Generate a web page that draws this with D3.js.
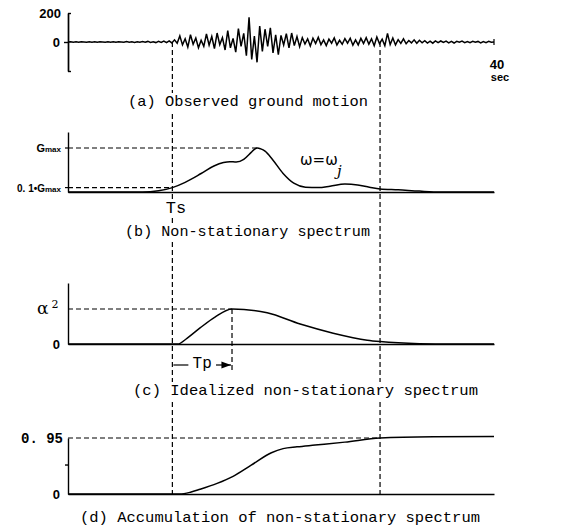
<!DOCTYPE html>
<html lang="en">
<head>
<meta charset="utf-8">
<title>Non-stationary spectrum</title>
<script src="https://d3js.org/d3.v7.min.js"></script>
<style>
  body { margin: 0; background: #fff; }
  svg { display: block; background: #fff; }
  .cap { font-family: "Liberation Mono", "DejaVu Sans Mono", monospace; font-size: 15px; fill: #000; }
  .lab { font-family: "Liberation Sans", Arial, sans-serif; font-weight: bold; font-size: 13px; fill: #000; }
  .axis path, .axis line { stroke: #000; stroke-width: 1.4; }
  .axis text { display: none; }
  .dash { stroke: #000; stroke-width: 1.2; stroke-dasharray: 5 3; fill: none; }
  .curve { stroke: #000; stroke-width: 1.5; fill: none; }
</style>
</head>
<body>
<svg id="fig" width="565" height="528"></svg>
<script>
// (a) observed ground motion, gal, one value every 0.25 s from 0 to 40 s
var accel = [
  0,2,-1,1, -2,1,0,-1, 2,-1,1,-2, 1,0,-2,2, -1,2,-2,1,
  0,-2,3,-1, 2,-3,1,-2, 3,-2,4,-3, 2,-4,5,-3, 6,-5,8,-6,
  15,-8,42,-20, 22,-35,50,-15, 28,-40,12,-30, 55,-22,38,-45, 62,-18,30,-55,
  78,-40,25,-70, 92,-30,60,-95, 170,-120,40,-140, 110,-65,88,-30, 98,-75,50,-88,
  45,-20,58,-40, 62,-25,38,-32, 30,-14,22,-28, 26,-10,32,-18, 15,-25,20,-8,
  28,-20,12,-16, 24,-8,26,-22, 14,-20,25,-10, 30,-15,22,-26, 35,-12,20,-25,
  60,-18,28,-20, 16,-10,22,-12, 10,-6,15,-9, 12,-5,9,-7, 6,-8,8,-4,
  7,-3,6,-6, 4,-7,5,-2, 6,-4,3,-5, 5,-2,4,-6, 3,-4,5,-2, 0
]

// (b) non-stationary spectrum, G / Gmax
var specT = [0, 7, 8.5, 9.8, 11, 12.5, 13.7, 14.6, 15.2, 15.8, 16.5, 17.2, 17.5, 17.8, 18.1, 18.5, 19.2, 20.2, 21.2, 22.3, 23.5, 24.6, 26, 27.2, 28.3, 29.3, 31, 33, 35, 40]
var specG = [0, 0, 0.03, 0.1, 0.22, 0.42, 0.59, 0.67, 0.69, 0.68, 0.74, 0.9, 0.97, 1.0, 0.98, 0.93, 0.74, 0.42, 0.2, 0.11, 0.1, 0.13, 0.18, 0.16, 0.11, 0.07, 0.05, 0.02, 0, 0]

// (c) idealized spectrum, / alpha^2
var idealT = [0, 10.3, 11.2, 12.4, 13.8, 15.4, 18.7, 21.8, 24.9, 28.1, 29.3, 33, 36, 40]
var idealG = [0, 0, 0.17, 0.46, 0.77, 1.0, 0.89, 0.57, 0.31, 0.11, 0.07, 0.01, 0, 0]

// (d) accumulation
var accT = [0, 10.5, 11.5, 12.4, 14, 15.5, 17.2, 19.1, 20.2, 21.5, 23.2, 26, 29.3, 34.3, 40]
var accV = [0, 0, 0.03, 0.08, 0.18, 0.3, 0.49, 0.70, 0.77, 0.8, 0.83, 0.88, 0.95, 0.97, 0.975]

var Ts = 9.8, Te = 29.3, Tpk = 15.4, Tgmax = 17.8

var captions = [
  "(a) Observed ground motion",
  "(b) Non-stationary spectrum",
  "(c) Idealized non-stationary spectrum",
  "(d) Accumulation of non-stationary spectrum"
]

var svg = d3.select("#fig")

var x = d3.scaleLinear().domain([0, 40]).range([68, 494])
var ya = d3.scaleLinear().domain([-200, 200]).range([71, 13])
var yb = d3.scaleLinear().domain([0, 1]).range([192, 148])
var yc = d3.scaleLinear().domain([0, 1]).range([344, 309])
var yd = d3.scaleLinear().domain([0, 0.95]).range([494, 438])

var dt = 40 / (accel.length - 1)

// long dashed verticals through all panels
svg.selectAll("line.vert")
  .data([Ts, Te])
  .enter().append("line")
  .attr("class", "dash vert")
  .attr("x1", d => x(d)).attr("x2", d => x(d))
  .attr("y1", ya(0)).attr("y2", yd(0))

// ---------- (a)
var ga = svg.append("g")
ga.append("path")
  .attr("class", "curve")
  .attr("stroke-width", 1.2)
  .attr("d", d3.line().x((d, i) => x(i * dt)).y(d => ya(d))(accel))
ga.append("g").attr("class", "axis")
  .attr("transform", "translate(" + x(0) + ",0)")
  .call(d3.axisLeft(ya).tickValues([0]).tickSize(4).tickSizeOuter(0))
ga.append("g").attr("class", "axis")
  .attr("transform", "translate(" + x(0) + ",0)")
  .call(d3.axisRight(ya).tickValues([-200, 200]).tickSize(3).tickSizeOuter(0))
ga.append("line").attr("stroke", "#000").attr("stroke-width", 1.2)
  .attr("x1", x(40)).attr("x2", x(40)).attr("y1", ya(0) - 3).attr("y2", ya(0) + 3)
ga.append("text").attr("class", "lab").attr("text-anchor", "end")
  .attr("x", 61).attr("y", ya(200) + 5).text("200")
ga.append("text").attr("class", "lab").attr("text-anchor", "end")
  .attr("x", 60).attr("y", ya(0) + 5).text("0")
ga.append("text").attr("class", "lab").attr("text-anchor", "middle")
  .attr("x", x(40) + 3).attr("y", 69).text("40")
ga.append("text").attr("class", "lab").attr("text-anchor", "middle")
  .style("font-size", "11px")
  .attr("x", x(40) + 6).attr("y", 81).text("sec")

// ---------- (b)
var gb = svg.append("g")
gb.append("path").attr("class", "dash")
  .attr("d", d3.line()([[x(0), yb(1)], [x(Tgmax), yb(1)]]))
gb.append("path").attr("class", "dash")
  .attr("d", d3.line()([[x(0), yb(0.1)], [x(Ts), yb(0.1)]]))
gb.append("path")
  .attr("class", "curve")
  .attr("d", d3.line().curve(d3.curveMonotoneX).x((d, i) => x(specT[i])).y(d => yb(d))(specG))
gb.append("g").attr("class", "axis")
  .attr("transform", "translate(" + x(0) + ",0)")
  .call(d3.axisLeft(yb.copy().domain([0, 1.36]).range([192, 132])).tickValues([]).tickSizeOuter(0))
gb.append("g").attr("class", "axis")
  .attr("transform", "translate(0," + yb(0) + ")")
  .call(d3.axisBottom(x).tickValues([]).tickSizeOuter(0))
gb.selectAll("line.tk").data([1, 0.1]).enter().append("line")
  .attr("stroke", "#000").attr("stroke-width", 1.2)
  .attr("x1", x(0) - 3).attr("x2", x(0)).attr("y1", d => yb(d)).attr("y2", d => yb(d))

var gmax = gb.append("text").attr("class", "lab").attr("text-anchor", "end")
  .attr("x", 61).attr("y", yb(1) + 4).style("font-size", "11px")
gmax.append("tspan").text("G")
gmax.append("tspan").style("font-size", "8px").text("max")
var g01 = gb.append("text").attr("class", "lab").attr("text-anchor", "end")
  .attr("x", 61).attr("y", yb(0.1) + 4).style("font-size", "10px")
g01.append("tspan").text("0. 1\u2022G")
g01.append("tspan").style("font-size", "8px").text("max")

gb.append("text").attr("x", 300).attr("y", 165)
  .style("font-family", "\"DejaVu Sans\", sans-serif").style("font-size", "15px")
  .text("\u03c9=\u03c9")
gb.append("text").attr("x", 337).attr("y", 176)
  .style("font-family", "\"DejaVu Serif\", serif").style("font-style", "italic").style("font-size", "15px")
  .text("j")

gb.append("rect").attr("x", 166).attr("y", 200).attr("width", 20).attr("height", 16).attr("fill", "#fff")
gb.append("text").attr("class", "cap").attr("text-anchor", "middle")
  .style("font-size", "17px")
  .attr("x", 176).attr("y", 213).text("Ts")

// ---------- (c)
var gc = svg.append("g")
gc.append("path").attr("class", "dash")
  .attr("d", d3.line()([[x(0), yc(1)], [x(Tpk), yc(1)]]))
gc.append("path").attr("class", "dash")
  .attr("d", d3.line()([[x(Tpk), yc(1)], [x(Tpk), 371]]))
gc.append("path")
  .attr("class", "curve")
  .attr("d", d3.line().curve(d3.curveMonotoneX).x((d, i) => x(idealT[i])).y(d => yc(d))(idealG))
gc.append("g").attr("class", "axis")
  .attr("transform", "translate(" + x(0) + ",0)")
  .call(d3.axisLeft(yc.copy().domain([0, 1.74]).range([344, 283])).tickValues([]).tickSizeOuter(0))
gc.append("g").attr("class", "axis")
  .attr("transform", "translate(0," + yc(0) + ")")
  .call(d3.axisBottom(x).tickValues([]).tickSizeOuter(0))
var al = gc.append("text").attr("x", 37).attr("y", yc(1) + 5)
  .style("font-family", "\"DejaVu Serif\", serif").style("font-size", "17px")
al.append("tspan").text("\u03b1")
al.append("tspan").attr("dx", 3).attr("dy", -6).style("font-size", "11px").text("2")
gc.append("text").attr("class", "lab").attr("text-anchor", "end")
  .attr("x", 60).attr("y", yc(0) + 5).text("0")

// Tp arrow
svg.append("defs").append("marker")
  .attr("id", "ah").attr("viewBox", "0 0 8 6").attr("refX", 8).attr("refY", 3)
  .attr("markerWidth", 8).attr("markerHeight", 6).attr("orient", "auto")
  .append("path").attr("d", "M0,0L8,3L0,6Z").attr("fill", "#000")
gc.append("line").attr("stroke", "#000").attr("stroke-width", 1.2)
  .attr("x1", x(Ts) + 1).attr("x2", x(Ts) + 16).attr("y1", 365).attr("y2", 365)
gc.append("line").attr("stroke", "#000").attr("stroke-width", 1.2)
  .attr("marker-end", "url(#ah)")
  .attr("x1", x(Tpk) - 16).attr("x2", x(Tpk) - 1).attr("y1", 365).attr("y2", 365)
gc.append("text").attr("class", "cap").attr("text-anchor", "middle")
  .style("font-size", "16px")
  .attr("x", (x(Ts) + x(Tpk)) / 2).attr("y", 368).text("Tp")

// ---------- (d)
var gd = svg.append("g")
gd.append("path").attr("class", "dash")
  .attr("d", d3.line()([[x(0), yd(0.95)], [x(Te), yd(0.95)]]))
gd.append("path")
  .attr("class", "curve")
  .attr("d", d3.line().curve(d3.curveMonotoneX).x((d, i) => x(accT[i])).y(d => yd(d))(accV))
gd.append("g").attr("class", "axis")
  .attr("transform", "translate(" + x(0) + ",0)")
  .call(d3.axisLeft(yd).tickValues([0.5]).tickSize(3).tickSizeOuter(0))
gd.append("g").attr("class", "axis")
  .attr("transform", "translate(0," + yd(0) + ")")
  .call(d3.axisBottom(x).tickValues([]).tickSizeOuter(0))
gd.append("text").attr("class", "lab").attr("text-anchor", "end")
  .style("font-family", "\"Liberation Mono\", monospace").style("font-size", "14px")
  .attr("x", 63).attr("y", yd(0.95) + 5).text("0. 95")
gd.append("text").attr("class", "lab").attr("text-anchor", "end")
  .attr("x", 60).attr("y", yd(0) + 5).text("0")

// ---------- captions
var capPos = [
  { x: 128, y: 106, w: 240 },
  { x: 125, y: 236, w: 245 },
  { x: 133, y: 395, w: 345 },
  { x: 80, y: 522, w: 400 }
]
captions.forEach(function (c, i) {
  var p = capPos[i]
  svg.append("rect").attr("x", p.x - 2).attr("y", p.y - 13).attr("width", p.w + 4).attr("height", 18)
    .attr("fill", "#fff")
  svg.append("text").attr("class", "cap")
    .attr("x", p.x).attr("y", p.y)
    .attr("textLength", p.w).attr("lengthAdjust", "spacingAndGlyphs")
    .text(c)
})
</script>
</body>
</html>
